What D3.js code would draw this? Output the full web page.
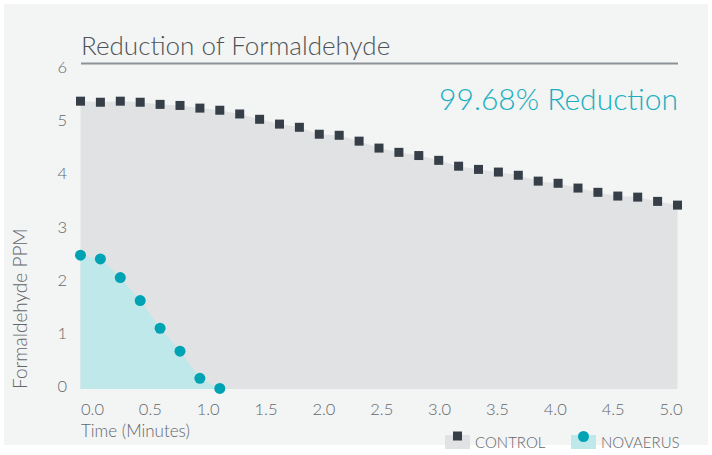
<!DOCTYPE html>
<meta charset="utf-8">
<script src="https://d3js.org/d3.v7.min.js"></script>
<style>
  body { margin: 0; background: #fff; }
  text { font-family: Lato, "Open Sans", sans-serif; font-weight: 300; }
</style>
<div id="chart"></div>
<script>
// 10-second samples, PPM
var controlPpm = [5.40, 5.38, 5.40, 5.38, 5.34, 5.32, 5.27, 5.23, 5.16, 5.06,
                  4.97, 4.91, 4.78, 4.76, 4.65, 4.52, 4.44, 4.38, 4.29, 4.18,
                  4.12, 4.07, 4.01, 3.90, 3.86, 3.77, 3.69, 3.62, 3.60, 3.52, 3.45];
var novaerusPpm = [2.51, 2.44, 2.09, 1.66, 1.14, 0.71, 0.20, 0.01];
var timeLabels = ["0.0", "0.5", "1.0", "1.5", "2.0", "2.5", "3.0", "3.5", "4.0", "4.5", "5.0"];
var ppmTicks = [0, 1, 2, 3, 4, 5, 6];
var seriesNames = ["CONTROL", "NOVAERUS"];

var width = 712, height = 455;

var svg = d3.select("#chart")
  .append("svg")
    .attr("width", width)
    .attr("height", height);

// panel
svg.append("rect")
  .attr("x", 4).attr("y", 4)
  .attr("width", 704).attr("height", 441)
  .attr("fill", "#f3f4f4");

// scales
var x = d3.scaleLinear()
  .domain([0, controlPpm.length - 1])
  .range([80.5, 677.5]);

var xLabel = d3.scalePoint()
  .domain(timeLabels)
  .range([92, 670.5]);

var y = d3.scaleLinear()
  .domain([0, 6])
  .range([389, 69.2]);

// areas
var area = d3.area()
  .x(function(d, i) { return x(i); })
  .y0(y(0))
  .y1(function(d) { return y(d); });

svg.append("path")
  .datum(controlPpm)
  .attr("d", area)
  .attr("fill", "#e1e2e4");

svg.append("path")
  .datum(novaerusPpm)
  .attr("d", area)
  .attr("fill", "#bfe8eb");

// markers
svg.selectAll(".ctrl")
  .data(controlPpm)
  .enter()
  .append("rect")
    .attr("class", "ctrl")
    .attr("x", function(d, i) { return x(i) - 4.5; })
    .attr("y", function(d) { return y(d) - 4.5; })
    .attr("width", 9)
    .attr("height", 9)
    .attr("fill", "#363f48");

svg.selectAll(".nova")
  .data(novaerusPpm)
  .enter()
  .append("circle")
    .attr("class", "nova")
    .attr("cx", function(d, i) { return x(i); })
    .attr("cy", function(d) { return y(d); })
    .attr("r", 5.5)
    .attr("fill", "#00a3b4");

// axes
var yAxis = svg.append("g")
  .attr("transform", "translate(67,0)")
  .call(d3.axisLeft(y).tickValues(ppmTicks).tickSize(0).tickPadding(0).tickFormat(d3.format("d")));
yAxis.select(".domain").remove();
yAxis.selectAll("text")
  .attr("dy", "0.18em")
  .attr("fill", "#62676b")
  .style("font-size", "16.5px");

var xAxis = svg.append("g")
  .attr("transform", "translate(0," + y(0) + ")")
  .call(d3.axisBottom(xLabel).tickSize(0).tickPadding(14));
xAxis.select(".domain").remove();
xAxis.selectAll("text")
  .attr("fill", "#62676b")
  .style("font-size", "16.5px");

// titles
svg.append("text")
  .attr("x", 81).attr("y", 55)
  .attr("fill", "#4d5358")
  .style("font-size", "26px")
  .text("Reduction of Formaldehyde");

svg.append("line")
  .attr("x1", 81).attr("x2", 678)
  .attr("y1", 63.5).attr("y2", 63.5)
  .attr("stroke", "#8c9296")
  .attr("stroke-width", 2);

svg.append("text")
  .attr("x", 678).attr("y", 109.5)
  .attr("text-anchor", "end")
  .attr("fill", "#1aafc0")
  .style("font-size", "30px")
  .text("99.68% Reduction");

svg.append("text")
  .attr("transform", "translate(27,389) rotate(-90)")
  .attr("fill", "#62676b")
  .style("font-size", "19px")
  .text("Formaldehyde PPM");

svg.append("text")
  .attr("x", 81).attr("y", 437)
  .attr("fill", "#62676b")
  .style("font-size", "17px")
  .text("Time (Minutes)");

// legend
var legend = svg.append("g").attr("transform", "translate(445,435)");
var items = legend.selectAll("g")
  .data(seriesNames)
  .enter()
  .append("g")
    .attr("transform", function(d, i) { return "translate(" + (i * 126) + ",0)"; });

items.append("rect")
  .attr("width", 25).attr("height", 14)
  .attr("fill", function(d, i) { return i === 0 ? "#e1e2e4" : "#bfe8eb"; });

items.filter(function(d, i) { return i === 0; })
  .append("rect")
    .attr("x", 8).attr("y", -3.5)
    .attr("width", 9).attr("height", 9)
    .attr("fill", "#363f48");

items.filter(function(d, i) { return i === 1; })
  .append("circle")
    .attr("cx", 12.5).attr("cy", 1.5)
    .attr("r", 5.5)
    .attr("fill", "#00a3b4");

items.append("text")
  .attr("x", 30).attr("y", 12.5)
  .attr("fill", "#62676b")
  .style("font-size", "15px")
  .text(function(d) { return d; });
</script>
